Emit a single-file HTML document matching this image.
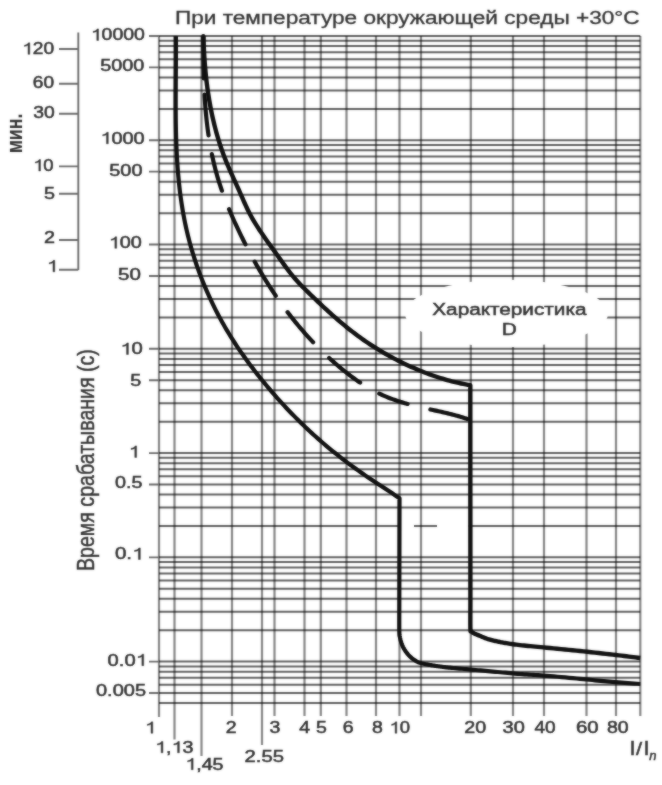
<!DOCTYPE html>
<html><head><meta charset="utf-8"><style>
html,body{margin:0;padding:0;background:#fff;width:662px;height:785px;overflow:hidden}
svg{display:block;will-change:transform}
text{font-family:"Liberation Sans",sans-serif;stroke:#333;stroke-width:0.5px}
.soft{filter:blur(1.0px);opacity:0.5}
</style></head><body>
<svg width="662" height="785" viewBox="0 0 662 785">
<g>
<rect width="662" height="785" fill="#fff"/>
<path d="M159 36.0H640.3 M159 40.77H640.3 M159 46.1H640.3 M159 52.15H640.3 M159 59.13H640.3 M159 67.39H640.3 M159 77.49H640.3 M159 90.52H640.3 M159 108.88H640.3 M159 140.27H640.3 M159 145.04H640.3 M159 150.37H640.3 M159 156.42H640.3 M159 163.4H640.3 M159 171.66H640.3 M159 181.76H640.3 M159 194.79H640.3 M159 213.15H640.3 M159 244.54H640.3 M159 249.31H640.3 M159 254.64H640.3 M159 260.69H640.3 M159 267.67H640.3 M159 275.93H640.3 M159 286.03H640.3 M159 299.06H640.3 M159 317.42H640.3 M159 348.81H640.3 M159 353.58H640.3 M159 358.91H640.3 M159 364.96H640.3 M159 371.94H640.3 M159 380.2H640.3 M159 390.3H640.3 M159 403.33H640.3 M159 421.69H640.3 M159 453.08H640.3 M159 457.85H640.3 M159 463.18H640.3 M159 469.23H640.3 M159 476.21H640.3 M159 484.47H640.3 M159 494.57H640.3 M159 507.6H640.3 M159 525.96H640.3 M159 557.35H640.3 M159 562.12H640.3 M159 567.45H640.3 M159 573.5H640.3 M159 580.48H640.3 M159 588.74H640.3 M159 598.84H640.3 M159 611.87H640.3 M159 630.23H640.3 M159 661.62H640.3 M159 666.39H640.3 M159 671.72H640.3 M159 677.77H640.3 M159 684.75H640.3 M159 693.01H640.3 M159 703.11H640.3" stroke="#606060" stroke-width="2.0" fill="none"/>
<path d="M159 36V717 M174.5 36V739.5 M201.5 36V756 M232 36V716 M262 36V745 M274.5 36V716 M304.5 36V716 M320.8 36V716 M346.5 36V716 M376 36V716 M399.5 36V716 M421 36V716 M470.8 36V716 M513 36V716 M544 36V716 M586.5 36V716 M616 36V716 M640.3 36V716" stroke="#858585" stroke-width="2.2" fill="none" style="mix-blend-mode:multiply"/>
<path d="M149 36.00H159 M149 67.39H159 M149 140.27H159 M149 171.66H159 M149 244.54H159 M149 275.93H159 M149 348.81H159 M149 380.20H159 M149 453.08H159 M149 484.47H159 M149 557.35H159 M149 661.62H159 M149 693.01H159" stroke="#6a6a6a" stroke-width="1.9" fill="none"/>
<ellipse cx="506.5" cy="313.4" rx="101.5" ry="33.7" fill="#fff"/>
<rect x="401" y="524.46" width="13" height="3" fill="#fff"/>
<rect x="437" y="524.46" width="31.5" height="3" fill="#fff"/>
<path d="M78.3 32.5V270 M59 49H78.3 M59 83.7H78.3 M59 113.8H78.3 M59 166.4H78.3 M59 193.7H78.3 M59 240H78.3 M59 269.8H78.3" stroke="#6a6a6a" stroke-width="1.9" fill="none"/>
<path d="M175.90 36.00 L175.92 38.73 L175.93 41.46 L175.94 44.20 L175.94 46.93 L175.94 49.67 L175.94 52.41 L175.93 55.15 L175.92 57.89 L175.90 60.63 L175.89 63.38 L175.87 66.12 L175.85 68.87 L175.83 71.62 L175.81 74.37 L175.79 77.12 L175.77 79.87 L175.75 82.62 L175.74 85.37 L175.72 88.12 L175.70 90.88 L175.69 93.63 L175.68 96.39 L175.67 99.14 L175.67 101.89 L175.67 104.65 L175.68 107.40 L175.68 110.16 L175.70 112.91 L175.72 115.67 L175.74 118.42 L175.77 121.17 L175.81 123.93 L175.86 126.68 L175.91 129.43 L175.97 132.18 L176.04 134.93 L176.11 137.68 L176.20 140.43 L176.30 143.18 L176.40 145.93 L176.52 148.67 L176.64 151.42 L176.78 154.16 L176.92 156.90 L177.08 159.64 L177.26 162.38 L177.44 165.12 L177.64 167.85 L177.85 170.58 L178.07 173.32 L178.31 176.05 L178.56 178.77 L178.83 181.50 L179.11 184.22 L179.41 186.94 L179.72 189.66 L180.05 192.38 L180.40 195.09 L180.77 197.80 L181.15 200.51 L181.55 203.22 L181.97 205.92 L182.41 208.62 L182.86 211.32 L183.34 214.01 L183.84 216.71 L184.35 219.39 L184.89 222.08 L185.45 224.76 L186.03 227.44 L186.63 230.11 L187.26 232.78 L187.90 235.45 L188.57 238.11 L189.26 240.77 L189.97 243.43 L190.71 246.07 L191.46 248.72 L192.24 251.36 L193.04 253.99 L193.86 256.62 L194.70 259.24 L195.56 261.86 L196.44 264.47 L197.34 267.07 L198.26 269.66 L199.21 272.25 L200.17 274.83 L201.16 277.41 L202.16 279.97 L203.18 282.53 L204.23 285.08 L205.29 287.62 L206.38 290.16 L207.48 292.68 L208.60 295.20 L209.75 297.70 L210.91 300.20 L212.09 302.68 L213.29 305.16 L214.51 307.63 L215.75 310.08 L217.00 312.53 L218.28 314.96 L219.57 317.38 L220.89 319.80 L222.22 322.19 L223.57 324.58 L224.93 326.96 L226.32 329.32 L227.72 331.67 L229.14 334.02 L230.58 336.34 L232.03 338.66 L233.50 340.97 L234.99 343.26 L236.50 345.55 L238.01 347.82 L239.55 350.08 L241.10 352.34 L242.67 354.58 L244.25 356.81 L245.84 359.04 L247.45 361.25 L249.08 363.45 L250.72 365.65 L252.37 367.83 L254.03 370.01 L255.71 372.18 L257.40 374.34 L259.11 376.49 L260.82 378.63 L262.55 380.76 L264.30 382.89 L266.05 385.00 L267.81 387.11 L269.59 389.21 L271.38 391.31 L273.18 393.39 L274.99 395.46 L276.82 397.53 L278.65 399.58 L280.50 401.62 L282.36 403.66 L284.22 405.68 L286.10 407.70 L288.00 409.70 L289.90 411.69 L291.81 413.68 L293.74 415.65 L295.67 417.61 L297.62 419.56 L299.57 421.49 L301.54 423.42 L303.52 425.33 L305.50 427.23 L307.50 429.12 L309.51 431.00 L311.53 432.86 L313.56 434.71 L315.60 436.55 L317.65 438.37 L319.70 440.18 L321.77 441.98 L323.85 443.76 L325.94 445.54 L328.04 447.30 L330.15 449.04 L332.26 450.78 L334.39 452.50 L336.53 454.21 L338.68 455.91 L340.83 457.60 L343.00 459.27 L345.17 460.93 L347.36 462.58 L349.55 464.22 L351.76 465.85 L353.97 467.46 L356.19 469.07 L358.42 470.66 L360.66 472.24 L362.91 473.81 L365.17 475.37 L367.44 476.91 L369.72 478.45 L372.00 479.98 L374.29 481.50 L376.58 483.02 L378.88 484.53 L381.18 486.04 L383.48 487.55 L385.78 489.06 L388.07 490.57 L390.37 492.08 L392.66 493.60 L394.95 495.13 L397.23 496.66 L399.50 498.20 L399.30 600.00 L399.30 603.21 L399.29 606.59 L399.28 610.07 L399.27 613.58 L399.26 617.03 L399.25 620.36 L399.25 623.50 L399.26 626.37 L399.27 628.89 L399.30 631.00 L399.34 632.65 L399.39 633.89 L399.44 634.79 L399.50 635.43 L399.57 635.86 L399.64 636.17 L399.72 636.42 L399.81 636.68 L399.90 637.01 L400.00 637.50 L400.10 638.08 L400.21 638.63 L400.33 639.17 L400.45 639.70 L400.57 640.22 L400.71 640.73 L400.85 641.23 L400.99 641.72 L401.14 642.21 L401.30 642.70 L401.46 643.19 L401.63 643.66 L401.80 644.13 L401.98 644.59 L402.16 645.05 L402.35 645.50 L402.55 645.95 L402.76 646.40 L402.97 646.85 L403.20 647.30 L403.43 647.75 L403.68 648.20 L403.93 648.64 L404.18 649.08 L404.45 649.52 L404.72 649.96 L405.01 650.40 L405.30 650.84 L405.59 651.27 L405.90 651.70 L406.21 652.13 L406.53 652.56 L406.86 652.99 L407.20 653.42 L407.54 653.84 L407.90 654.27 L408.26 654.68 L408.63 655.10 L409.01 655.50 L409.40 655.90 L409.80 656.29 L410.20 656.68 L410.60 657.06 L411.01 657.44 L411.44 657.81 L411.87 658.18 L412.33 658.54 L412.80 658.90 L413.29 659.25 L413.80 659.60 L414.32 659.94 L414.85 660.29 L415.38 660.63 L415.93 660.96 L416.49 661.29 L417.09 661.62 L417.72 661.93 L418.40 662.23 L419.12 662.52 L419.90 662.80 L420.75 663.06 L421.67 663.32 L422.64 663.56 L423.66 663.79 L424.71 664.01 L425.78 664.22 L426.85 664.42 L427.92 664.62 L428.98 664.81 L430.00 665.00 L431.00 665.18 L432.01 665.35 L433.01 665.51 L434.01 665.66 L435.01 665.81 L436.00 665.96 L437.00 666.09 L438.00 666.23 L439.00 666.37 L440.00 666.50 L440.95 666.63 L441.82 666.75 L442.65 666.86 L443.47 666.97 L444.31 667.07 L445.20 667.18 L446.18 667.30 L447.29 667.42 L448.55 667.55 L450.00 667.70 L451.65 667.86 L453.46 668.03 L455.42 668.21 L457.49 668.40 L459.66 668.59 L461.90 668.78 L464.19 668.99 L466.50 669.19 L468.81 669.39 L471.10 669.60 L473.39 669.81 L475.73 670.02 L478.12 670.24 L480.53 670.46 L482.98 670.68 L485.44 670.91 L487.91 671.13 L490.38 671.36 L492.85 671.58 L495.30 671.80 L497.75 672.02 L500.23 672.25 L502.71 672.48 L505.20 672.71 L507.69 672.94 L510.18 673.16 L512.66 673.38 L515.12 673.60 L517.57 673.80 L520.00 674.00 L522.35 674.18 L524.59 674.33 L526.76 674.47 L528.90 674.61 L531.07 674.74 L533.29 674.87 L535.61 675.02 L538.08 675.19 L540.73 675.38 L543.60 675.60 L546.75 675.86 L550.17 676.14 L553.80 676.45 L557.57 676.78 L561.43 677.12 L565.32 677.46 L569.18 677.81 L572.96 678.15 L576.58 678.48 L580.00 678.80 L583.22 679.10 L586.32 679.41 L589.32 679.71 L592.23 680.01 L595.10 680.31 L597.94 680.60 L600.77 680.88 L603.63 681.16 L606.53 681.44 L609.50 681.70 L612.53 681.95 L615.58 682.20 L618.64 682.43 L621.73 682.66 L624.82 682.89 L627.92 683.11 L631.02 683.33 L634.12 683.55 L637.21 683.77 L640.30 684.00" stroke="#111" stroke-width="4.2" fill="none" stroke-linejoin="round"/>
<path d="M203.40 36.00 L203.47 38.37 L203.54 40.74 L203.63 43.11 L203.72 45.49 L203.83 47.86 L203.95 50.24 L204.07 52.62 L204.21 55.00 L204.36 57.37 L204.52 59.75 L204.70 62.13 L204.88 64.51 L205.08 66.89 L205.29 69.26 L205.51 71.64 L205.74 74.02 L205.99 76.39 L206.25 78.76 L206.53 81.14 L206.81 83.51 L207.12 85.87 L207.43 88.24 L207.76 90.61 L208.11 92.97 L208.47 95.33 L208.84 97.68 L209.23 100.04 L209.64 102.39 L210.06 104.74 L210.49 107.08 L210.95 109.42 L211.41 111.76 L211.90 114.09 L212.40 116.42 L212.92 118.75 L213.46 121.07 L214.01 123.38 L214.59 125.69 L215.18 128.00 L215.78 130.30 L216.41 132.59 L217.05 134.88 L217.72 137.17 L218.40 139.44 L219.10 141.72 L219.82 143.98 L220.56 146.24 L221.33 148.49 L222.11 150.74 L222.91 152.98 L223.73 155.21 L224.57 157.43 L225.44 159.65 L226.32 161.86 L227.23 164.06 L228.16 166.25 L229.10 168.43 L230.06 170.62 L231.03 172.79 L232.02 174.96 L233.00 177.13 L234.00 179.30 L234.99 181.47 L235.99 183.64 L236.98 185.81 L237.97 187.98 L238.94 190.16 L239.91 192.33 L240.87 194.52 L241.82 196.70 L242.78 198.88 L243.74 201.06 L244.71 203.23 L245.69 205.39 L246.69 207.54 L247.72 209.68 L248.77 211.80 L249.85 213.91 L250.97 215.99 L252.12 218.06 L253.30 220.11 L254.51 222.15 L255.75 224.17 L257.01 226.18 L258.29 228.18 L259.60 230.17 L260.92 232.14 L262.26 234.11 L263.61 236.07 L264.98 238.02 L266.35 239.97 L267.74 241.91 L269.13 243.85 L270.53 245.78 L271.93 247.72 L273.33 249.65 L274.73 251.59 L276.13 253.52 L277.52 255.46 L278.90 257.41 L280.28 259.35 L281.67 261.29 L283.05 263.23 L284.44 265.16 L285.84 267.08 L287.26 268.99 L288.69 270.88 L290.14 272.76 L291.61 274.61 L293.11 276.43 L294.65 278.23 L296.21 280.00 L297.80 281.75 L299.41 283.48 L301.05 285.19 L302.70 286.88 L304.38 288.56 L306.06 290.23 L307.75 291.90 L309.45 293.56 L311.16 295.22 L312.87 296.88 L314.59 298.53 L316.31 300.18 L318.04 301.83 L319.77 303.47 L321.52 305.11 L323.27 306.74 L325.02 308.36 L326.78 309.98 L328.55 311.59 L330.33 313.20 L332.12 314.79 L333.91 316.38 L335.71 317.95 L337.52 319.52 L339.34 321.08 L341.16 322.62 L343.00 324.15 L344.84 325.67 L346.69 327.18 L348.55 328.68 L350.43 330.16 L352.31 331.62 L354.20 333.07 L356.10 334.51 L358.01 335.93 L359.93 337.33 L361.86 338.72 L363.80 340.09 L365.76 341.44 L367.72 342.77 L369.69 344.09 L371.68 345.39 L373.67 346.67 L375.68 347.94 L377.69 349.19 L379.72 350.42 L381.75 351.63 L383.80 352.83 L385.85 354.01 L387.92 355.18 L389.99 356.33 L392.08 357.46 L394.18 358.57 L396.28 359.67 L398.40 360.75 L400.52 361.82 L402.65 362.86 L404.80 363.90 L406.95 364.91 L409.11 365.91 L411.29 366.89 L413.47 367.86 L415.66 368.81 L417.86 369.75 L420.07 370.66 L422.28 371.56 L424.51 372.44 L426.74 373.30 L428.98 374.14 L431.23 374.96 L433.49 375.75 L435.75 376.53 L438.01 377.28 L440.29 378.01 L442.57 378.72 L444.86 379.41 L447.15 380.07 L449.44 380.70 L451.74 381.31 L454.05 381.89 L456.36 382.45 L458.68 382.98 L460.99 383.48 L463.32 383.96 L465.64 384.40 L467.97 384.82 L470.30 385.20 L470.40 600.00 L470.40 602.97 L470.39 606.11 L470.37 609.36 L470.36 612.63 L470.34 615.86 L470.34 618.95 L470.33 621.84 L470.34 624.44 L470.36 626.69 L470.40 628.50 L470.45 629.82 L470.49 630.72 L470.55 631.25 L470.61 631.50 L470.68 631.55 L470.77 631.46 L470.87 631.32 L470.99 631.20 L471.13 631.16 L471.30 631.30 L471.49 631.54 L471.70 631.77 L471.93 631.99 L472.18 632.21 L472.45 632.42 L472.73 632.62 L473.03 632.82 L473.34 633.02 L473.67 633.21 L474.00 633.40 L474.33 633.58 L474.65 633.73 L474.97 633.88 L475.30 634.01 L475.65 634.15 L476.03 634.30 L476.46 634.46 L476.94 634.64 L477.48 634.85 L478.10 635.10 L478.81 635.39 L479.60 635.73 L480.46 636.10 L481.38 636.50 L482.34 636.91 L483.32 637.32 L484.31 637.72 L485.30 638.11 L486.27 638.47 L487.20 638.80 L488.11 639.10 L489.02 639.37 L489.93 639.63 L490.84 639.88 L491.76 640.12 L492.67 640.35 L493.58 640.57 L494.49 640.78 L495.39 640.99 L496.30 641.20 L497.18 641.40 L498.02 641.59 L498.83 641.77 L499.63 641.95 L500.45 642.12 L501.29 642.29 L502.18 642.46 L503.14 642.63 L504.17 642.81 L505.30 643.00 L506.50 643.20 L507.73 643.40 L509.01 643.60 L510.34 643.81 L511.74 644.02 L513.21 644.23 L514.76 644.45 L516.40 644.66 L518.14 644.88 L520.00 645.10 L521.94 645.32 L523.95 645.53 L526.02 645.73 L528.18 645.94 L530.44 646.16 L532.81 646.38 L535.30 646.61 L537.92 646.85 L540.68 647.12 L543.60 647.40 L546.72 647.71 L550.07 648.03 L553.59 648.37 L557.26 648.73 L561.03 649.09 L564.86 649.47 L568.71 649.85 L572.55 650.23 L576.32 650.62 L580.00 651.00 L583.66 651.39 L587.40 651.79 L591.17 652.20 L594.95 652.62 L598.70 653.04 L602.39 653.45 L605.99 653.86 L609.46 654.26 L612.78 654.64 L615.90 655.00 L618.81 655.34 L621.52 655.66 L624.07 655.97 L626.49 656.27 L628.82 656.56 L631.09 656.85 L633.34 657.13 L635.60 657.42 L637.91 657.70 L640.30 658.00" stroke="#111" stroke-width="4.4" fill="none" stroke-linejoin="round"/>
<path d="M203.30 36.00 L203.30 37.36 L203.30 38.72 L203.30 40.08 L203.30 41.44 L203.30 42.80 L203.30 44.16 L203.31 45.53 L203.31 46.89 L203.32 48.25 L203.32 49.62 L203.33 50.98 L203.34 52.35 L203.35 53.71 L203.36 55.08 L203.38 56.44 L203.39 57.81 L203.41 59.18 L203.42 60.55 L203.44 61.91 L203.46 63.28 L203.48 64.65 L203.51 66.02 L203.53 67.38 L203.56 68.75 L203.59 70.12 L203.62 71.49 L203.66 72.86 L203.70 74.23 L203.73 75.60 L203.77 76.97 L203.82 78.33 M204.53 94.59 L204.61 95.95 L204.70 97.32 L204.78 98.69 L204.87 100.05 L204.96 101.42 L205.06 102.79 L205.16 104.15 L205.26 105.52 L205.37 106.88 L205.48 108.25 L205.59 109.61 L205.71 110.97 L205.83 112.34 L205.96 113.70 L206.09 115.06 L206.22 116.42 L206.36 117.78 L206.50 119.14 L206.65 120.50 L206.80 121.86 L206.96 123.22 L207.12 124.58 L207.28 125.94 L207.45 127.29 L207.62 128.65 L207.80 130.00 L207.98 131.36 L208.17 132.71 L208.36 134.06 L208.56 135.41 M211.84 154.06 L212.12 155.40 L212.40 156.73 L212.69 158.06 L212.99 159.39 L213.29 160.72 L213.60 162.05 L213.91 163.38 L214.23 164.70 L214.56 166.03 L214.89 167.35 L215.23 168.67 L215.57 169.99 L215.92 171.31 L216.28 172.62 L216.65 173.94 L217.02 175.25 L217.40 176.56 L217.78 177.87 L218.17 179.18 L218.57 180.48 L218.98 181.79 L219.39 183.09 L219.81 184.39 L220.24 185.68 L220.67 186.98 L221.11 188.27 L221.55 189.57 L221.95 190.70 M229.08 209.20 L229.61 210.47 L230.14 211.73 L230.68 212.99 L231.22 214.24 L231.76 215.50 L232.31 216.75 L232.86 218.00 L233.42 219.25 L233.97 220.50 L234.54 221.75 L235.10 222.99 L235.67 224.24 L236.24 225.48 L236.82 226.72 L237.40 227.96 L237.98 229.19 L238.57 230.43 L239.16 231.66 L239.75 232.89 L240.34 234.12 L240.94 235.35 L241.54 236.57 L242.15 237.80 L242.75 239.02 L243.36 240.24 L243.98 241.46 L244.59 242.67 L245.21 243.89 L245.44 244.34 M254.67 261.62 L255.34 262.80 L256.01 263.99 L256.68 265.18 L257.36 266.36 L258.04 267.54 L258.72 268.72 L259.41 269.90 L260.10 271.07 L260.80 272.25 L261.50 273.42 L262.20 274.59 L262.91 275.76 L263.61 276.93 L264.33 278.09 L265.05 279.26 L265.77 280.42 L266.49 281.58 L267.22 282.73 L267.95 283.89 L268.69 285.04 L269.43 286.19 L270.17 287.34 L270.92 288.49 L271.67 289.63 L272.42 290.77 L273.18 291.91 L273.94 293.05 L274.71 294.18 L275.48 295.31 L275.77 295.74 M287.57 312.12 L288.40 313.20 L289.24 314.29 L290.08 315.37 L290.92 316.45 L291.76 317.53 L292.61 318.60 L293.47 319.67 L294.32 320.74 L295.19 321.80 L296.05 322.86 L296.92 323.92 L297.79 324.97 L298.67 326.02 L299.55 327.07 L300.44 328.11 L301.32 329.15 L302.22 330.19 L303.11 331.22 L304.01 332.25 L304.92 333.28 L305.83 334.30 L306.74 335.32 L307.66 336.34 L308.58 337.35 L309.50 338.36 L310.43 339.36 L311.36 340.36 L312.30 341.36 L313.12 342.23 M329.21 358.03 L330.22 358.95 L331.23 359.87 L332.25 360.78 L333.28 361.69 L334.30 362.59 L335.33 363.49 L336.37 364.38 L337.41 365.27 L338.45 366.16 L339.50 367.04 L340.55 367.91 L341.61 368.78 L342.67 369.65 L343.73 370.51 L344.80 371.37 L345.87 372.22 L346.95 373.06 L348.03 373.90 L349.12 374.74 L350.21 375.56 L351.30 376.39 L352.40 377.20 L353.51 378.01 L354.62 378.81 L355.73 379.61 L356.85 380.39 L357.97 381.17 L359.10 381.94 L360.09 382.61 M379.26 393.62 L380.49 394.20 L381.73 394.76 L382.97 395.32 L384.22 395.86 L385.47 396.40 L386.73 396.92 L387.99 397.43 L389.26 397.93 L390.53 398.42 L391.80 398.90 L393.08 399.36 L394.37 399.82 L395.66 400.27 L396.95 400.71 L398.24 401.14 L399.54 401.56 L400.85 401.98 L402.15 402.38 L403.46 402.78 L404.77 403.16 L406.09 403.54 L407.41 403.91 L407.57 403.96 M430.40 409.44 L431.74 409.74 L433.08 410.03 L434.42 410.33 L435.75 410.62 L437.09 410.92 L438.43 411.21 L439.77 411.51 L441.11 411.81 L442.44 412.12 L443.78 412.43 L445.11 412.74 L446.44 413.05 L447.77 413.37 L449.10 413.70 L450.43 414.03 L451.75 414.36 L453.08 414.71 L454.40 415.05 L455.72 415.41 L457.03 415.77 L458.34 416.14 L459.65 416.52 L460.96 416.91 L462.27 417.31 L463.57 417.71 L464.87 418.13 L466.16 418.56 L467.29 418.94" stroke="#111" stroke-width="4.2" fill="none" stroke-linecap="round"/>
<text transform="translate(174.89,24.40) scale(1.2436,1)" font-size="18.20" fill="#333" style="stroke-width:0.3px">При температуре окружающей среды +30°С</text>
<g transform="translate(90.76,40.39) scale(1.2018,1)"><text font-size="16.20" fill="#333" > 0000</text><path d="M31 0L40 0L40 71L33 71C31 64 24 58 12 56L12 49C22 50 28 53 31 57Z" transform="translate(0.000,0) scale(0.1620,-0.1620)" fill="#333" stroke="#333" stroke-width="2.469"/></g>
<text transform="translate(100.31,71.34) scale(1.2240,1)" font-size="16.20" fill="#333" >5000</text>
<g transform="translate(100.30,143.79) scale(1.2325,1)"><text font-size="16.20" fill="#333" > 000</text><path d="M31 0L40 0L40 71L33 71C31 64 24 58 12 56L12 49C22 50 28 53 31 57Z" transform="translate(0.000,0) scale(0.1620,-0.1620)" fill="#333" stroke="#333" stroke-width="2.469"/></g>
<text transform="translate(109.30,175.54) scale(1.2289,1)" font-size="16.20" fill="#333" >500</text>
<g transform="translate(108.72,248.29) scale(1.2245,1)"><text font-size="16.20" fill="#333" > 00</text><path d="M31 0L40 0L40 71L33 71C31 64 24 58 12 56L12 49C22 50 28 53 31 57Z" transform="translate(0.000,0) scale(0.1620,-0.1620)" fill="#333" stroke="#333" stroke-width="2.469"/></g>
<text transform="translate(118.08,279.74) scale(1.2689,1)" font-size="16.20" fill="#333" >50</text>
<g transform="translate(120.27,354.44) scale(1.2524,1)"><text font-size="16.20" fill="#333" > 0</text><path d="M31 0L40 0L40 71L33 71C31 64 24 58 12 56L12 49C22 50 28 53 31 57Z" transform="translate(0.000,0) scale(0.1620,-0.1620)" fill="#333" stroke="#333" stroke-width="2.469"/></g>
<text transform="translate(130.27,386.06) scale(1.2200,1)" font-size="16.20" fill="#333" >5</text>
<g transform="translate(128.66,457.39) scale(1.2200,1)"><text font-size="16.20" fill="#333" > </text><path d="M31 0L40 0L40 71L33 71C31 64 24 58 12 56L12 49C22 50 28 53 31 57Z" transform="translate(0.000,0) scale(0.1620,-0.1620)" fill="#333" stroke="#333" stroke-width="2.469"/></g>
<text transform="translate(114.91,488.24) scale(1.2215,1)" font-size="16.20" fill="#333" >0.5</text>
<g transform="translate(114.88,559.44) scale(1.2715,1)"><text font-size="16.20" fill="#333" >0. </text><path d="M31 0L40 0L40 71L33 71C31 64 24 58 12 56L12 49C22 50 28 53 31 57Z" transform="translate(13.511,0) scale(0.1620,-0.1620)" fill="#333" stroke="#333" stroke-width="2.469"/></g>
<g transform="translate(107.59,665.64) scale(1.2450,1)"><text font-size="16.20" fill="#333" >0.0 </text><path d="M31 0L40 0L40 71L33 71C31 64 24 58 12 56L12 49C22 50 28 53 31 57Z" transform="translate(22.520,0) scale(0.1620,-0.1620)" fill="#333" stroke="#333" stroke-width="2.469"/></g>
<text transform="translate(96.00,695.54) scale(1.2339,1)" font-size="16.20" fill="#333" >0.005</text>
<g transform="translate(22.10,54.34) scale(1.1837,1)"><text font-size="16.20" fill="#333" > 20</text><path d="M31 0L40 0L40 71L33 71C31 64 24 58 12 56L12 49C22 50 28 53 31 57Z" transform="translate(0.000,0) scale(0.1620,-0.1620)" fill="#333" stroke="#333" stroke-width="2.469"/></g>
<text transform="translate(32.84,87.59) scale(1.1790,1)" font-size="16.20" fill="#333" >60</text>
<text transform="translate(33.22,118.49) scale(1.1919,1)" font-size="16.20" fill="#333" >30</text>
<g transform="translate(33.08,170.99) scale(1.1427,1)"><text font-size="16.20" fill="#333" > 0</text><path d="M31 0L40 0L40 71L33 71C31 64 24 58 12 56L12 49C22 50 28 53 31 57Z" transform="translate(0.000,0) scale(0.1620,-0.1620)" fill="#333" stroke="#333" stroke-width="2.469"/></g>
<text transform="translate(43.97,198.71) scale(1.2200,1)" font-size="16.20" fill="#333" >5</text>
<text transform="translate(43.97,242.67) scale(1.2200,1)" font-size="16.20" fill="#333" >2</text>
<g transform="translate(46.86,271.84) scale(1.2200,1)"><text font-size="16.20" fill="#333" > </text><path d="M31 0L40 0L40 71L33 71C31 64 24 58 12 56L12 49C22 50 28 53 31 57Z" transform="translate(0.000,0) scale(0.1620,-0.1620)" fill="#333" stroke="#333" stroke-width="2.469"/></g>
<g transform="translate(144.97,733.22) scale(1.2200,1)"><text font-size="16.00" fill="#333" > </text><path d="M31 0L40 0L40 71L33 71C31 64 24 58 12 56L12 49C22 50 28 53 31 57Z" transform="translate(0.000,0) scale(0.1600,-0.1600)" fill="#333" stroke="#333" stroke-width="2.500"/></g>
<text transform="translate(225.78,733.30) scale(1.2200,1)" font-size="16.00" fill="#333" >2</text>
<text transform="translate(269.38,733.22) scale(1.2200,1)" font-size="16.00" fill="#333" >3</text>
<text transform="translate(299.13,733.30) scale(1.2200,1)" font-size="16.00" fill="#333" >4</text>
<text transform="translate(315.93,733.14) scale(1.2200,1)" font-size="16.00" fill="#333" >5</text>
<text transform="translate(342.84,733.22) scale(1.2200,1)" font-size="16.00" fill="#333" >6</text>
<text transform="translate(371.93,733.22) scale(1.2200,1)" font-size="16.00" fill="#333" >8</text>
<g transform="translate(389.38,733.22) scale(1.1570,1)"><text font-size="16.00" fill="#333" > 0</text><path d="M31 0L40 0L40 71L33 71C31 64 24 58 12 56L12 49C22 50 28 53 31 57Z" transform="translate(0.000,0) scale(0.1600,-0.1600)" fill="#333" stroke="#333" stroke-width="2.500"/></g>
<text transform="translate(464.32,733.22) scale(1.2303,1)" font-size="16.00" fill="#333" >20</text>
<text transform="translate(502.60,733.22) scale(1.2486,1)" font-size="16.00" fill="#333" >30</text>
<text transform="translate(534.52,733.22) scale(1.1895,1)" font-size="16.00" fill="#333" >40</text>
<text transform="translate(575.88,733.22) scale(1.2730,1)" font-size="16.00" fill="#333" >60</text>
<text transform="translate(607.02,733.22) scale(1.2185,1)" font-size="16.00" fill="#333" >80</text>
<g transform="translate(155.03,752.81) scale(1.2324,1)"><text font-size="16.00" fill="#333" > , 3</text><path d="M31 0L40 0L40 71L33 71C31 64 24 58 12 56L12 49C22 50 28 53 31 57Z" transform="translate(0.000,0) scale(0.1600,-0.1600)" fill="#333" stroke="#333" stroke-width="2.500"/><path d="M31 0L40 0L40 71L33 71C31 64 24 58 12 56L12 49C22 50 28 53 31 57Z" transform="translate(13.344,0) scale(0.1600,-0.1600)" fill="#333" stroke="#333" stroke-width="2.500"/></g>
<g transform="translate(185.23,769.71) scale(1.2324,1)"><text font-size="16.00" fill="#333" > ,45</text><path d="M31 0L40 0L40 71L33 71C31 64 24 58 12 56L12 49C22 50 28 53 31 57Z" transform="translate(0.000,0) scale(0.1600,-0.1600)" fill="#333" stroke="#333" stroke-width="2.500"/></g>
<text transform="translate(244.59,762.17) scale(1.2667,1)" font-size="16.00" fill="#333" >2.55</text>
<text x="632.5" y="754.8" font-size="20" text-anchor="middle" fill="#333" style="stroke-width:0.6px">I</text>
<text x="639.0" y="754.8" font-size="20" text-anchor="middle" fill="#333" transform="translate(639,756) scale(1.1,0.92) translate(-639,-756)">/</text>
<text x="646.6" y="754.8" font-size="20" text-anchor="middle" fill="#333" style="stroke-width:0.6px">I</text>
<text x="649.3" y="759.8" font-size="13" font-style="italic" fill="#333">n</text>
<text transform="translate(432.28,315.20) scale(1.2141,1)" font-size="17.10" fill="#333" >Характеристика</text>
<text transform="translate(501.85,335.30) scale(1.2160,1)" font-size="17.10" fill="#333" >D</text>
<text transform="translate(94.00,570.97) scale(1.2000,1) rotate(-90)" font-size="19.60" fill="#333" style="stroke-width:0.4px">Время срабатывания (с)</text>
<text transform="translate(21.7,153.37) scale(1.2,1) rotate(-90)" font-size="17.8" font-weight="bold" fill="#333" style="stroke-width:0.1px">мин.</text>
</g>
<g class="soft">
<rect width="662" height="785" fill="#fff"/>
<path d="M159 36.0H640.3 M159 40.77H640.3 M159 46.1H640.3 M159 52.15H640.3 M159 59.13H640.3 M159 67.39H640.3 M159 77.49H640.3 M159 90.52H640.3 M159 108.88H640.3 M159 140.27H640.3 M159 145.04H640.3 M159 150.37H640.3 M159 156.42H640.3 M159 163.4H640.3 M159 171.66H640.3 M159 181.76H640.3 M159 194.79H640.3 M159 213.15H640.3 M159 244.54H640.3 M159 249.31H640.3 M159 254.64H640.3 M159 260.69H640.3 M159 267.67H640.3 M159 275.93H640.3 M159 286.03H640.3 M159 299.06H640.3 M159 317.42H640.3 M159 348.81H640.3 M159 353.58H640.3 M159 358.91H640.3 M159 364.96H640.3 M159 371.94H640.3 M159 380.2H640.3 M159 390.3H640.3 M159 403.33H640.3 M159 421.69H640.3 M159 453.08H640.3 M159 457.85H640.3 M159 463.18H640.3 M159 469.23H640.3 M159 476.21H640.3 M159 484.47H640.3 M159 494.57H640.3 M159 507.6H640.3 M159 525.96H640.3 M159 557.35H640.3 M159 562.12H640.3 M159 567.45H640.3 M159 573.5H640.3 M159 580.48H640.3 M159 588.74H640.3 M159 598.84H640.3 M159 611.87H640.3 M159 630.23H640.3 M159 661.62H640.3 M159 666.39H640.3 M159 671.72H640.3 M159 677.77H640.3 M159 684.75H640.3 M159 693.01H640.3 M159 703.11H640.3" stroke="#606060" stroke-width="2.0" fill="none"/>
<path d="M159 36V717 M174.5 36V739.5 M201.5 36V756 M232 36V716 M262 36V745 M274.5 36V716 M304.5 36V716 M320.8 36V716 M346.5 36V716 M376 36V716 M399.5 36V716 M421 36V716 M470.8 36V716 M513 36V716 M544 36V716 M586.5 36V716 M616 36V716 M640.3 36V716" stroke="#858585" stroke-width="2.2" fill="none" style="mix-blend-mode:multiply"/>
<path d="M149 36.00H159 M149 67.39H159 M149 140.27H159 M149 171.66H159 M149 244.54H159 M149 275.93H159 M149 348.81H159 M149 380.20H159 M149 453.08H159 M149 484.47H159 M149 557.35H159 M149 661.62H159 M149 693.01H159" stroke="#6a6a6a" stroke-width="1.9" fill="none"/>
<ellipse cx="506.5" cy="313.4" rx="101.5" ry="33.7" fill="#fff"/>
<rect x="401" y="524.46" width="13" height="3" fill="#fff"/>
<rect x="437" y="524.46" width="31.5" height="3" fill="#fff"/>
<path d="M78.3 32.5V270 M59 49H78.3 M59 83.7H78.3 M59 113.8H78.3 M59 166.4H78.3 M59 193.7H78.3 M59 240H78.3 M59 269.8H78.3" stroke="#6a6a6a" stroke-width="1.9" fill="none"/>
<path d="M175.90 36.00 L175.92 38.73 L175.93 41.46 L175.94 44.20 L175.94 46.93 L175.94 49.67 L175.94 52.41 L175.93 55.15 L175.92 57.89 L175.90 60.63 L175.89 63.38 L175.87 66.12 L175.85 68.87 L175.83 71.62 L175.81 74.37 L175.79 77.12 L175.77 79.87 L175.75 82.62 L175.74 85.37 L175.72 88.12 L175.70 90.88 L175.69 93.63 L175.68 96.39 L175.67 99.14 L175.67 101.89 L175.67 104.65 L175.68 107.40 L175.68 110.16 L175.70 112.91 L175.72 115.67 L175.74 118.42 L175.77 121.17 L175.81 123.93 L175.86 126.68 L175.91 129.43 L175.97 132.18 L176.04 134.93 L176.11 137.68 L176.20 140.43 L176.30 143.18 L176.40 145.93 L176.52 148.67 L176.64 151.42 L176.78 154.16 L176.92 156.90 L177.08 159.64 L177.26 162.38 L177.44 165.12 L177.64 167.85 L177.85 170.58 L178.07 173.32 L178.31 176.05 L178.56 178.77 L178.83 181.50 L179.11 184.22 L179.41 186.94 L179.72 189.66 L180.05 192.38 L180.40 195.09 L180.77 197.80 L181.15 200.51 L181.55 203.22 L181.97 205.92 L182.41 208.62 L182.86 211.32 L183.34 214.01 L183.84 216.71 L184.35 219.39 L184.89 222.08 L185.45 224.76 L186.03 227.44 L186.63 230.11 L187.26 232.78 L187.90 235.45 L188.57 238.11 L189.26 240.77 L189.97 243.43 L190.71 246.07 L191.46 248.72 L192.24 251.36 L193.04 253.99 L193.86 256.62 L194.70 259.24 L195.56 261.86 L196.44 264.47 L197.34 267.07 L198.26 269.66 L199.21 272.25 L200.17 274.83 L201.16 277.41 L202.16 279.97 L203.18 282.53 L204.23 285.08 L205.29 287.62 L206.38 290.16 L207.48 292.68 L208.60 295.20 L209.75 297.70 L210.91 300.20 L212.09 302.68 L213.29 305.16 L214.51 307.63 L215.75 310.08 L217.00 312.53 L218.28 314.96 L219.57 317.38 L220.89 319.80 L222.22 322.19 L223.57 324.58 L224.93 326.96 L226.32 329.32 L227.72 331.67 L229.14 334.02 L230.58 336.34 L232.03 338.66 L233.50 340.97 L234.99 343.26 L236.50 345.55 L238.01 347.82 L239.55 350.08 L241.10 352.34 L242.67 354.58 L244.25 356.81 L245.84 359.04 L247.45 361.25 L249.08 363.45 L250.72 365.65 L252.37 367.83 L254.03 370.01 L255.71 372.18 L257.40 374.34 L259.11 376.49 L260.82 378.63 L262.55 380.76 L264.30 382.89 L266.05 385.00 L267.81 387.11 L269.59 389.21 L271.38 391.31 L273.18 393.39 L274.99 395.46 L276.82 397.53 L278.65 399.58 L280.50 401.62 L282.36 403.66 L284.22 405.68 L286.10 407.70 L288.00 409.70 L289.90 411.69 L291.81 413.68 L293.74 415.65 L295.67 417.61 L297.62 419.56 L299.57 421.49 L301.54 423.42 L303.52 425.33 L305.50 427.23 L307.50 429.12 L309.51 431.00 L311.53 432.86 L313.56 434.71 L315.60 436.55 L317.65 438.37 L319.70 440.18 L321.77 441.98 L323.85 443.76 L325.94 445.54 L328.04 447.30 L330.15 449.04 L332.26 450.78 L334.39 452.50 L336.53 454.21 L338.68 455.91 L340.83 457.60 L343.00 459.27 L345.17 460.93 L347.36 462.58 L349.55 464.22 L351.76 465.85 L353.97 467.46 L356.19 469.07 L358.42 470.66 L360.66 472.24 L362.91 473.81 L365.17 475.37 L367.44 476.91 L369.72 478.45 L372.00 479.98 L374.29 481.50 L376.58 483.02 L378.88 484.53 L381.18 486.04 L383.48 487.55 L385.78 489.06 L388.07 490.57 L390.37 492.08 L392.66 493.60 L394.95 495.13 L397.23 496.66 L399.50 498.20 L399.30 600.00 L399.30 603.21 L399.29 606.59 L399.28 610.07 L399.27 613.58 L399.26 617.03 L399.25 620.36 L399.25 623.50 L399.26 626.37 L399.27 628.89 L399.30 631.00 L399.34 632.65 L399.39 633.89 L399.44 634.79 L399.50 635.43 L399.57 635.86 L399.64 636.17 L399.72 636.42 L399.81 636.68 L399.90 637.01 L400.00 637.50 L400.10 638.08 L400.21 638.63 L400.33 639.17 L400.45 639.70 L400.57 640.22 L400.71 640.73 L400.85 641.23 L400.99 641.72 L401.14 642.21 L401.30 642.70 L401.46 643.19 L401.63 643.66 L401.80 644.13 L401.98 644.59 L402.16 645.05 L402.35 645.50 L402.55 645.95 L402.76 646.40 L402.97 646.85 L403.20 647.30 L403.43 647.75 L403.68 648.20 L403.93 648.64 L404.18 649.08 L404.45 649.52 L404.72 649.96 L405.01 650.40 L405.30 650.84 L405.59 651.27 L405.90 651.70 L406.21 652.13 L406.53 652.56 L406.86 652.99 L407.20 653.42 L407.54 653.84 L407.90 654.27 L408.26 654.68 L408.63 655.10 L409.01 655.50 L409.40 655.90 L409.80 656.29 L410.20 656.68 L410.60 657.06 L411.01 657.44 L411.44 657.81 L411.87 658.18 L412.33 658.54 L412.80 658.90 L413.29 659.25 L413.80 659.60 L414.32 659.94 L414.85 660.29 L415.38 660.63 L415.93 660.96 L416.49 661.29 L417.09 661.62 L417.72 661.93 L418.40 662.23 L419.12 662.52 L419.90 662.80 L420.75 663.06 L421.67 663.32 L422.64 663.56 L423.66 663.79 L424.71 664.01 L425.78 664.22 L426.85 664.42 L427.92 664.62 L428.98 664.81 L430.00 665.00 L431.00 665.18 L432.01 665.35 L433.01 665.51 L434.01 665.66 L435.01 665.81 L436.00 665.96 L437.00 666.09 L438.00 666.23 L439.00 666.37 L440.00 666.50 L440.95 666.63 L441.82 666.75 L442.65 666.86 L443.47 666.97 L444.31 667.07 L445.20 667.18 L446.18 667.30 L447.29 667.42 L448.55 667.55 L450.00 667.70 L451.65 667.86 L453.46 668.03 L455.42 668.21 L457.49 668.40 L459.66 668.59 L461.90 668.78 L464.19 668.99 L466.50 669.19 L468.81 669.39 L471.10 669.60 L473.39 669.81 L475.73 670.02 L478.12 670.24 L480.53 670.46 L482.98 670.68 L485.44 670.91 L487.91 671.13 L490.38 671.36 L492.85 671.58 L495.30 671.80 L497.75 672.02 L500.23 672.25 L502.71 672.48 L505.20 672.71 L507.69 672.94 L510.18 673.16 L512.66 673.38 L515.12 673.60 L517.57 673.80 L520.00 674.00 L522.35 674.18 L524.59 674.33 L526.76 674.47 L528.90 674.61 L531.07 674.74 L533.29 674.87 L535.61 675.02 L538.08 675.19 L540.73 675.38 L543.60 675.60 L546.75 675.86 L550.17 676.14 L553.80 676.45 L557.57 676.78 L561.43 677.12 L565.32 677.46 L569.18 677.81 L572.96 678.15 L576.58 678.48 L580.00 678.80 L583.22 679.10 L586.32 679.41 L589.32 679.71 L592.23 680.01 L595.10 680.31 L597.94 680.60 L600.77 680.88 L603.63 681.16 L606.53 681.44 L609.50 681.70 L612.53 681.95 L615.58 682.20 L618.64 682.43 L621.73 682.66 L624.82 682.89 L627.92 683.11 L631.02 683.33 L634.12 683.55 L637.21 683.77 L640.30 684.00" stroke="#111" stroke-width="4.2" fill="none" stroke-linejoin="round"/>
<path d="M203.40 36.00 L203.47 38.37 L203.54 40.74 L203.63 43.11 L203.72 45.49 L203.83 47.86 L203.95 50.24 L204.07 52.62 L204.21 55.00 L204.36 57.37 L204.52 59.75 L204.70 62.13 L204.88 64.51 L205.08 66.89 L205.29 69.26 L205.51 71.64 L205.74 74.02 L205.99 76.39 L206.25 78.76 L206.53 81.14 L206.81 83.51 L207.12 85.87 L207.43 88.24 L207.76 90.61 L208.11 92.97 L208.47 95.33 L208.84 97.68 L209.23 100.04 L209.64 102.39 L210.06 104.74 L210.49 107.08 L210.95 109.42 L211.41 111.76 L211.90 114.09 L212.40 116.42 L212.92 118.75 L213.46 121.07 L214.01 123.38 L214.59 125.69 L215.18 128.00 L215.78 130.30 L216.41 132.59 L217.05 134.88 L217.72 137.17 L218.40 139.44 L219.10 141.72 L219.82 143.98 L220.56 146.24 L221.33 148.49 L222.11 150.74 L222.91 152.98 L223.73 155.21 L224.57 157.43 L225.44 159.65 L226.32 161.86 L227.23 164.06 L228.16 166.25 L229.10 168.43 L230.06 170.62 L231.03 172.79 L232.02 174.96 L233.00 177.13 L234.00 179.30 L234.99 181.47 L235.99 183.64 L236.98 185.81 L237.97 187.98 L238.94 190.16 L239.91 192.33 L240.87 194.52 L241.82 196.70 L242.78 198.88 L243.74 201.06 L244.71 203.23 L245.69 205.39 L246.69 207.54 L247.72 209.68 L248.77 211.80 L249.85 213.91 L250.97 215.99 L252.12 218.06 L253.30 220.11 L254.51 222.15 L255.75 224.17 L257.01 226.18 L258.29 228.18 L259.60 230.17 L260.92 232.14 L262.26 234.11 L263.61 236.07 L264.98 238.02 L266.35 239.97 L267.74 241.91 L269.13 243.85 L270.53 245.78 L271.93 247.72 L273.33 249.65 L274.73 251.59 L276.13 253.52 L277.52 255.46 L278.90 257.41 L280.28 259.35 L281.67 261.29 L283.05 263.23 L284.44 265.16 L285.84 267.08 L287.26 268.99 L288.69 270.88 L290.14 272.76 L291.61 274.61 L293.11 276.43 L294.65 278.23 L296.21 280.00 L297.80 281.75 L299.41 283.48 L301.05 285.19 L302.70 286.88 L304.38 288.56 L306.06 290.23 L307.75 291.90 L309.45 293.56 L311.16 295.22 L312.87 296.88 L314.59 298.53 L316.31 300.18 L318.04 301.83 L319.77 303.47 L321.52 305.11 L323.27 306.74 L325.02 308.36 L326.78 309.98 L328.55 311.59 L330.33 313.20 L332.12 314.79 L333.91 316.38 L335.71 317.95 L337.52 319.52 L339.34 321.08 L341.16 322.62 L343.00 324.15 L344.84 325.67 L346.69 327.18 L348.55 328.68 L350.43 330.16 L352.31 331.62 L354.20 333.07 L356.10 334.51 L358.01 335.93 L359.93 337.33 L361.86 338.72 L363.80 340.09 L365.76 341.44 L367.72 342.77 L369.69 344.09 L371.68 345.39 L373.67 346.67 L375.68 347.94 L377.69 349.19 L379.72 350.42 L381.75 351.63 L383.80 352.83 L385.85 354.01 L387.92 355.18 L389.99 356.33 L392.08 357.46 L394.18 358.57 L396.28 359.67 L398.40 360.75 L400.52 361.82 L402.65 362.86 L404.80 363.90 L406.95 364.91 L409.11 365.91 L411.29 366.89 L413.47 367.86 L415.66 368.81 L417.86 369.75 L420.07 370.66 L422.28 371.56 L424.51 372.44 L426.74 373.30 L428.98 374.14 L431.23 374.96 L433.49 375.75 L435.75 376.53 L438.01 377.28 L440.29 378.01 L442.57 378.72 L444.86 379.41 L447.15 380.07 L449.44 380.70 L451.74 381.31 L454.05 381.89 L456.36 382.45 L458.68 382.98 L460.99 383.48 L463.32 383.96 L465.64 384.40 L467.97 384.82 L470.30 385.20 L470.40 600.00 L470.40 602.97 L470.39 606.11 L470.37 609.36 L470.36 612.63 L470.34 615.86 L470.34 618.95 L470.33 621.84 L470.34 624.44 L470.36 626.69 L470.40 628.50 L470.45 629.82 L470.49 630.72 L470.55 631.25 L470.61 631.50 L470.68 631.55 L470.77 631.46 L470.87 631.32 L470.99 631.20 L471.13 631.16 L471.30 631.30 L471.49 631.54 L471.70 631.77 L471.93 631.99 L472.18 632.21 L472.45 632.42 L472.73 632.62 L473.03 632.82 L473.34 633.02 L473.67 633.21 L474.00 633.40 L474.33 633.58 L474.65 633.73 L474.97 633.88 L475.30 634.01 L475.65 634.15 L476.03 634.30 L476.46 634.46 L476.94 634.64 L477.48 634.85 L478.10 635.10 L478.81 635.39 L479.60 635.73 L480.46 636.10 L481.38 636.50 L482.34 636.91 L483.32 637.32 L484.31 637.72 L485.30 638.11 L486.27 638.47 L487.20 638.80 L488.11 639.10 L489.02 639.37 L489.93 639.63 L490.84 639.88 L491.76 640.12 L492.67 640.35 L493.58 640.57 L494.49 640.78 L495.39 640.99 L496.30 641.20 L497.18 641.40 L498.02 641.59 L498.83 641.77 L499.63 641.95 L500.45 642.12 L501.29 642.29 L502.18 642.46 L503.14 642.63 L504.17 642.81 L505.30 643.00 L506.50 643.20 L507.73 643.40 L509.01 643.60 L510.34 643.81 L511.74 644.02 L513.21 644.23 L514.76 644.45 L516.40 644.66 L518.14 644.88 L520.00 645.10 L521.94 645.32 L523.95 645.53 L526.02 645.73 L528.18 645.94 L530.44 646.16 L532.81 646.38 L535.30 646.61 L537.92 646.85 L540.68 647.12 L543.60 647.40 L546.72 647.71 L550.07 648.03 L553.59 648.37 L557.26 648.73 L561.03 649.09 L564.86 649.47 L568.71 649.85 L572.55 650.23 L576.32 650.62 L580.00 651.00 L583.66 651.39 L587.40 651.79 L591.17 652.20 L594.95 652.62 L598.70 653.04 L602.39 653.45 L605.99 653.86 L609.46 654.26 L612.78 654.64 L615.90 655.00 L618.81 655.34 L621.52 655.66 L624.07 655.97 L626.49 656.27 L628.82 656.56 L631.09 656.85 L633.34 657.13 L635.60 657.42 L637.91 657.70 L640.30 658.00" stroke="#111" stroke-width="4.4" fill="none" stroke-linejoin="round"/>
<path d="M203.30 36.00 L203.30 37.36 L203.30 38.72 L203.30 40.08 L203.30 41.44 L203.30 42.80 L203.30 44.16 L203.31 45.53 L203.31 46.89 L203.32 48.25 L203.32 49.62 L203.33 50.98 L203.34 52.35 L203.35 53.71 L203.36 55.08 L203.38 56.44 L203.39 57.81 L203.41 59.18 L203.42 60.55 L203.44 61.91 L203.46 63.28 L203.48 64.65 L203.51 66.02 L203.53 67.38 L203.56 68.75 L203.59 70.12 L203.62 71.49 L203.66 72.86 L203.70 74.23 L203.73 75.60 L203.77 76.97 L203.82 78.33 M204.53 94.59 L204.61 95.95 L204.70 97.32 L204.78 98.69 L204.87 100.05 L204.96 101.42 L205.06 102.79 L205.16 104.15 L205.26 105.52 L205.37 106.88 L205.48 108.25 L205.59 109.61 L205.71 110.97 L205.83 112.34 L205.96 113.70 L206.09 115.06 L206.22 116.42 L206.36 117.78 L206.50 119.14 L206.65 120.50 L206.80 121.86 L206.96 123.22 L207.12 124.58 L207.28 125.94 L207.45 127.29 L207.62 128.65 L207.80 130.00 L207.98 131.36 L208.17 132.71 L208.36 134.06 L208.56 135.41 M211.84 154.06 L212.12 155.40 L212.40 156.73 L212.69 158.06 L212.99 159.39 L213.29 160.72 L213.60 162.05 L213.91 163.38 L214.23 164.70 L214.56 166.03 L214.89 167.35 L215.23 168.67 L215.57 169.99 L215.92 171.31 L216.28 172.62 L216.65 173.94 L217.02 175.25 L217.40 176.56 L217.78 177.87 L218.17 179.18 L218.57 180.48 L218.98 181.79 L219.39 183.09 L219.81 184.39 L220.24 185.68 L220.67 186.98 L221.11 188.27 L221.55 189.57 L221.95 190.70 M229.08 209.20 L229.61 210.47 L230.14 211.73 L230.68 212.99 L231.22 214.24 L231.76 215.50 L232.31 216.75 L232.86 218.00 L233.42 219.25 L233.97 220.50 L234.54 221.75 L235.10 222.99 L235.67 224.24 L236.24 225.48 L236.82 226.72 L237.40 227.96 L237.98 229.19 L238.57 230.43 L239.16 231.66 L239.75 232.89 L240.34 234.12 L240.94 235.35 L241.54 236.57 L242.15 237.80 L242.75 239.02 L243.36 240.24 L243.98 241.46 L244.59 242.67 L245.21 243.89 L245.44 244.34 M254.67 261.62 L255.34 262.80 L256.01 263.99 L256.68 265.18 L257.36 266.36 L258.04 267.54 L258.72 268.72 L259.41 269.90 L260.10 271.07 L260.80 272.25 L261.50 273.42 L262.20 274.59 L262.91 275.76 L263.61 276.93 L264.33 278.09 L265.05 279.26 L265.77 280.42 L266.49 281.58 L267.22 282.73 L267.95 283.89 L268.69 285.04 L269.43 286.19 L270.17 287.34 L270.92 288.49 L271.67 289.63 L272.42 290.77 L273.18 291.91 L273.94 293.05 L274.71 294.18 L275.48 295.31 L275.77 295.74 M287.57 312.12 L288.40 313.20 L289.24 314.29 L290.08 315.37 L290.92 316.45 L291.76 317.53 L292.61 318.60 L293.47 319.67 L294.32 320.74 L295.19 321.80 L296.05 322.86 L296.92 323.92 L297.79 324.97 L298.67 326.02 L299.55 327.07 L300.44 328.11 L301.32 329.15 L302.22 330.19 L303.11 331.22 L304.01 332.25 L304.92 333.28 L305.83 334.30 L306.74 335.32 L307.66 336.34 L308.58 337.35 L309.50 338.36 L310.43 339.36 L311.36 340.36 L312.30 341.36 L313.12 342.23 M329.21 358.03 L330.22 358.95 L331.23 359.87 L332.25 360.78 L333.28 361.69 L334.30 362.59 L335.33 363.49 L336.37 364.38 L337.41 365.27 L338.45 366.16 L339.50 367.04 L340.55 367.91 L341.61 368.78 L342.67 369.65 L343.73 370.51 L344.80 371.37 L345.87 372.22 L346.95 373.06 L348.03 373.90 L349.12 374.74 L350.21 375.56 L351.30 376.39 L352.40 377.20 L353.51 378.01 L354.62 378.81 L355.73 379.61 L356.85 380.39 L357.97 381.17 L359.10 381.94 L360.09 382.61 M379.26 393.62 L380.49 394.20 L381.73 394.76 L382.97 395.32 L384.22 395.86 L385.47 396.40 L386.73 396.92 L387.99 397.43 L389.26 397.93 L390.53 398.42 L391.80 398.90 L393.08 399.36 L394.37 399.82 L395.66 400.27 L396.95 400.71 L398.24 401.14 L399.54 401.56 L400.85 401.98 L402.15 402.38 L403.46 402.78 L404.77 403.16 L406.09 403.54 L407.41 403.91 L407.57 403.96 M430.40 409.44 L431.74 409.74 L433.08 410.03 L434.42 410.33 L435.75 410.62 L437.09 410.92 L438.43 411.21 L439.77 411.51 L441.11 411.81 L442.44 412.12 L443.78 412.43 L445.11 412.74 L446.44 413.05 L447.77 413.37 L449.10 413.70 L450.43 414.03 L451.75 414.36 L453.08 414.71 L454.40 415.05 L455.72 415.41 L457.03 415.77 L458.34 416.14 L459.65 416.52 L460.96 416.91 L462.27 417.31 L463.57 417.71 L464.87 418.13 L466.16 418.56 L467.29 418.94" stroke="#111" stroke-width="4.2" fill="none" stroke-linecap="round"/>
<text transform="translate(174.89,24.40) scale(1.2436,1)" font-size="18.20" fill="#333" style="stroke-width:0.3px">При температуре окружающей среды +30°С</text>
<g transform="translate(90.76,40.39) scale(1.2018,1)"><text font-size="16.20" fill="#333" > 0000</text><path d="M31 0L40 0L40 71L33 71C31 64 24 58 12 56L12 49C22 50 28 53 31 57Z" transform="translate(0.000,0) scale(0.1620,-0.1620)" fill="#333" stroke="#333" stroke-width="2.469"/></g>
<text transform="translate(100.31,71.34) scale(1.2240,1)" font-size="16.20" fill="#333" >5000</text>
<g transform="translate(100.30,143.79) scale(1.2325,1)"><text font-size="16.20" fill="#333" > 000</text><path d="M31 0L40 0L40 71L33 71C31 64 24 58 12 56L12 49C22 50 28 53 31 57Z" transform="translate(0.000,0) scale(0.1620,-0.1620)" fill="#333" stroke="#333" stroke-width="2.469"/></g>
<text transform="translate(109.30,175.54) scale(1.2289,1)" font-size="16.20" fill="#333" >500</text>
<g transform="translate(108.72,248.29) scale(1.2245,1)"><text font-size="16.20" fill="#333" > 00</text><path d="M31 0L40 0L40 71L33 71C31 64 24 58 12 56L12 49C22 50 28 53 31 57Z" transform="translate(0.000,0) scale(0.1620,-0.1620)" fill="#333" stroke="#333" stroke-width="2.469"/></g>
<text transform="translate(118.08,279.74) scale(1.2689,1)" font-size="16.20" fill="#333" >50</text>
<g transform="translate(120.27,354.44) scale(1.2524,1)"><text font-size="16.20" fill="#333" > 0</text><path d="M31 0L40 0L40 71L33 71C31 64 24 58 12 56L12 49C22 50 28 53 31 57Z" transform="translate(0.000,0) scale(0.1620,-0.1620)" fill="#333" stroke="#333" stroke-width="2.469"/></g>
<text transform="translate(130.27,386.06) scale(1.2200,1)" font-size="16.20" fill="#333" >5</text>
<g transform="translate(128.66,457.39) scale(1.2200,1)"><text font-size="16.20" fill="#333" > </text><path d="M31 0L40 0L40 71L33 71C31 64 24 58 12 56L12 49C22 50 28 53 31 57Z" transform="translate(0.000,0) scale(0.1620,-0.1620)" fill="#333" stroke="#333" stroke-width="2.469"/></g>
<text transform="translate(114.91,488.24) scale(1.2215,1)" font-size="16.20" fill="#333" >0.5</text>
<g transform="translate(114.88,559.44) scale(1.2715,1)"><text font-size="16.20" fill="#333" >0. </text><path d="M31 0L40 0L40 71L33 71C31 64 24 58 12 56L12 49C22 50 28 53 31 57Z" transform="translate(13.511,0) scale(0.1620,-0.1620)" fill="#333" stroke="#333" stroke-width="2.469"/></g>
<g transform="translate(107.59,665.64) scale(1.2450,1)"><text font-size="16.20" fill="#333" >0.0 </text><path d="M31 0L40 0L40 71L33 71C31 64 24 58 12 56L12 49C22 50 28 53 31 57Z" transform="translate(22.520,0) scale(0.1620,-0.1620)" fill="#333" stroke="#333" stroke-width="2.469"/></g>
<text transform="translate(96.00,695.54) scale(1.2339,1)" font-size="16.20" fill="#333" >0.005</text>
<g transform="translate(22.10,54.34) scale(1.1837,1)"><text font-size="16.20" fill="#333" > 20</text><path d="M31 0L40 0L40 71L33 71C31 64 24 58 12 56L12 49C22 50 28 53 31 57Z" transform="translate(0.000,0) scale(0.1620,-0.1620)" fill="#333" stroke="#333" stroke-width="2.469"/></g>
<text transform="translate(32.84,87.59) scale(1.1790,1)" font-size="16.20" fill="#333" >60</text>
<text transform="translate(33.22,118.49) scale(1.1919,1)" font-size="16.20" fill="#333" >30</text>
<g transform="translate(33.08,170.99) scale(1.1427,1)"><text font-size="16.20" fill="#333" > 0</text><path d="M31 0L40 0L40 71L33 71C31 64 24 58 12 56L12 49C22 50 28 53 31 57Z" transform="translate(0.000,0) scale(0.1620,-0.1620)" fill="#333" stroke="#333" stroke-width="2.469"/></g>
<text transform="translate(43.97,198.71) scale(1.2200,1)" font-size="16.20" fill="#333" >5</text>
<text transform="translate(43.97,242.67) scale(1.2200,1)" font-size="16.20" fill="#333" >2</text>
<g transform="translate(46.86,271.84) scale(1.2200,1)"><text font-size="16.20" fill="#333" > </text><path d="M31 0L40 0L40 71L33 71C31 64 24 58 12 56L12 49C22 50 28 53 31 57Z" transform="translate(0.000,0) scale(0.1620,-0.1620)" fill="#333" stroke="#333" stroke-width="2.469"/></g>
<g transform="translate(144.97,733.22) scale(1.2200,1)"><text font-size="16.00" fill="#333" > </text><path d="M31 0L40 0L40 71L33 71C31 64 24 58 12 56L12 49C22 50 28 53 31 57Z" transform="translate(0.000,0) scale(0.1600,-0.1600)" fill="#333" stroke="#333" stroke-width="2.500"/></g>
<text transform="translate(225.78,733.30) scale(1.2200,1)" font-size="16.00" fill="#333" >2</text>
<text transform="translate(269.38,733.22) scale(1.2200,1)" font-size="16.00" fill="#333" >3</text>
<text transform="translate(299.13,733.30) scale(1.2200,1)" font-size="16.00" fill="#333" >4</text>
<text transform="translate(315.93,733.14) scale(1.2200,1)" font-size="16.00" fill="#333" >5</text>
<text transform="translate(342.84,733.22) scale(1.2200,1)" font-size="16.00" fill="#333" >6</text>
<text transform="translate(371.93,733.22) scale(1.2200,1)" font-size="16.00" fill="#333" >8</text>
<g transform="translate(389.38,733.22) scale(1.1570,1)"><text font-size="16.00" fill="#333" > 0</text><path d="M31 0L40 0L40 71L33 71C31 64 24 58 12 56L12 49C22 50 28 53 31 57Z" transform="translate(0.000,0) scale(0.1600,-0.1600)" fill="#333" stroke="#333" stroke-width="2.500"/></g>
<text transform="translate(464.32,733.22) scale(1.2303,1)" font-size="16.00" fill="#333" >20</text>
<text transform="translate(502.60,733.22) scale(1.2486,1)" font-size="16.00" fill="#333" >30</text>
<text transform="translate(534.52,733.22) scale(1.1895,1)" font-size="16.00" fill="#333" >40</text>
<text transform="translate(575.88,733.22) scale(1.2730,1)" font-size="16.00" fill="#333" >60</text>
<text transform="translate(607.02,733.22) scale(1.2185,1)" font-size="16.00" fill="#333" >80</text>
<g transform="translate(155.03,752.81) scale(1.2324,1)"><text font-size="16.00" fill="#333" > , 3</text><path d="M31 0L40 0L40 71L33 71C31 64 24 58 12 56L12 49C22 50 28 53 31 57Z" transform="translate(0.000,0) scale(0.1600,-0.1600)" fill="#333" stroke="#333" stroke-width="2.500"/><path d="M31 0L40 0L40 71L33 71C31 64 24 58 12 56L12 49C22 50 28 53 31 57Z" transform="translate(13.344,0) scale(0.1600,-0.1600)" fill="#333" stroke="#333" stroke-width="2.500"/></g>
<g transform="translate(185.23,769.71) scale(1.2324,1)"><text font-size="16.00" fill="#333" > ,45</text><path d="M31 0L40 0L40 71L33 71C31 64 24 58 12 56L12 49C22 50 28 53 31 57Z" transform="translate(0.000,0) scale(0.1600,-0.1600)" fill="#333" stroke="#333" stroke-width="2.500"/></g>
<text transform="translate(244.59,762.17) scale(1.2667,1)" font-size="16.00" fill="#333" >2.55</text>
<text x="632.5" y="754.8" font-size="20" text-anchor="middle" fill="#333" style="stroke-width:0.6px">I</text>
<text x="639.0" y="754.8" font-size="20" text-anchor="middle" fill="#333" transform="translate(639,756) scale(1.1,0.92) translate(-639,-756)">/</text>
<text x="646.6" y="754.8" font-size="20" text-anchor="middle" fill="#333" style="stroke-width:0.6px">I</text>
<text x="649.3" y="759.8" font-size="13" font-style="italic" fill="#333">n</text>
<text transform="translate(432.28,315.20) scale(1.2141,1)" font-size="17.10" fill="#333" >Характеристика</text>
<text transform="translate(501.85,335.30) scale(1.2160,1)" font-size="17.10" fill="#333" >D</text>
<text transform="translate(94.00,570.97) scale(1.2000,1) rotate(-90)" font-size="19.60" fill="#333" style="stroke-width:0.4px">Время срабатывания (с)</text>
<text transform="translate(21.7,153.37) scale(1.2,1) rotate(-90)" font-size="17.8" font-weight="bold" fill="#333" style="stroke-width:0.1px">мин.</text>
</g>
</svg>
</body></html>
